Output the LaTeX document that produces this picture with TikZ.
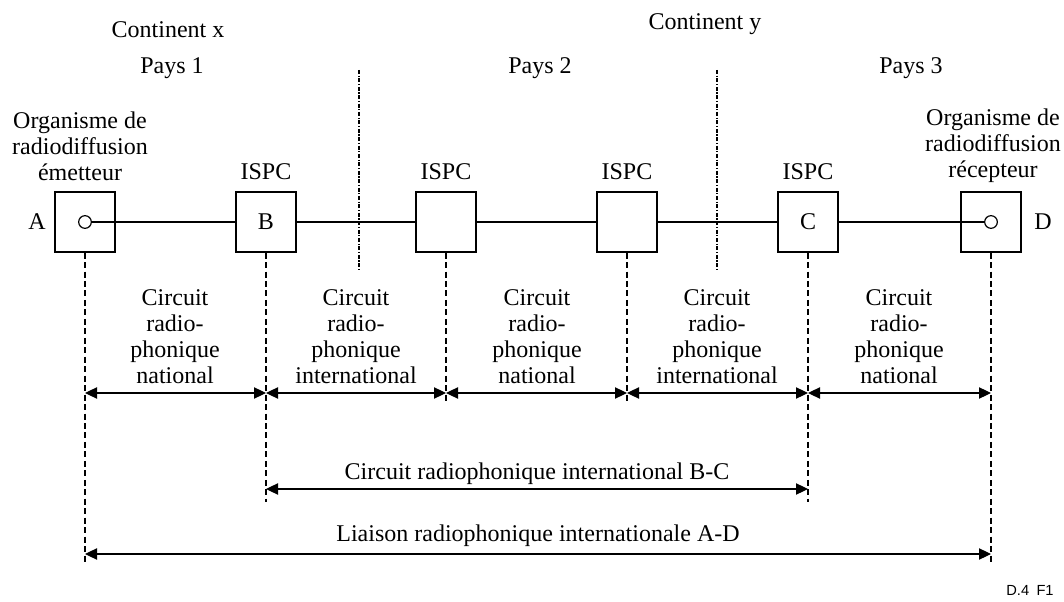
\documentclass[tikz,border=0pt]{standalone}
\usepackage{fontspec}
\setmainfont{Liberation Serif}
\setsansfont{Liberation Sans}
\usetikzlibrary{arrows.meta}

\tikzstyle{station}=[rectangle, draw, line width=0.9pt,
                     minimum size=45pt, inner sep=0pt]
\tikzstyle{port}=[circle, draw, line width=0.9pt,
                  minimum size=9.5pt, inner sep=0pt]
\tikzstyle{caption}=[align=center, inner sep=0pt]
\tikzstyle{leader}=[line width=0.8pt, dash pattern=on 4.5pt off 2.6pt]
\tikzstyle{border}=[line width=0.9pt,
                    dash pattern=on 3pt off 1.2pt on 0.9pt off 1.2pt]
\tikzstyle{span}=[line width=0.8pt,
                  {Triangle[length=9pt,width=8.5pt]}-{Triangle[length=9pt,width=8.5pt]}]

\begin{document}
\begin{tikzpicture}[x=0.75pt, y=-0.75pt, font=\fontsize{18}{19.5}\selectfont]

  \useasboundingbox (0, 0) rectangle (1064, 602);

  % continents and countries
  \node (contX) at (168, 30) [caption] {Continent x};
  \node (contY) at (705, 24) [caption] {Continent y};
  \node (pays1) at (172, 68) [caption] {Pays 1};
  \node (pays2) at (540, 68) [caption] {Pays 2};
  \node (pays3) at (911, 68) [caption] {Pays 3};

  \coordinate (sep1top) at (359, 70);
  \coordinate (sep1bot) at (359, 270);
  \coordinate (sep2top) at (717, 70);
  \coordinate (sep2bot) at (717, 270);
  \draw [border] (sep1top) -- (sep1bot);
  \draw [border] (sep2top) -- (sep2bot);

  % organisms
  \node (emet) at (80, 146) [caption] {Organisme de\\radiodiffusion\\émetteur};
  \node (recep) at (993, 146) [caption] {Organisme de\\radiodiffusion\\récepteur};

  % stations
  \node (A) at (85, 222) [station] {};
  \node (B) at (266, 222) [station] {B};
  \node (ispc1) at (446, 222) [station] {};
  \node (ispc2) at (627, 222) [station] {};
  \node (C) at (808, 222) [station] {C};
  \node (D) at (991, 222) [station] {};

  \node (portA) at (A.center) [port] {};
  \node (portD) at (D.center) [port] {};

  \node (nameA) at (37, 222) [caption] {A};
  \node (nameD) at (1043, 222) [caption] {D};

  \node (ispcB) at (266, 172) [caption] {ISPC};
  \node (ispcX) at (446, 172) [caption] {ISPC};
  \node (ispcY) at (627, 172) [caption] {ISPC};
  \node (ispcC) at (808, 172) [caption] {ISPC};

  \draw [line width=0.8pt] (portA) -- (B) -- (ispc1) -- (ispc2) -- (C) -- (portD);

  %%%%%%%%%%%%%%%%%%%%%%%%%%%%%%
  % leaders
  \coordinate (endA) at (85, 563);
  \coordinate (endB) at (266, 502);
  \coordinate (end1) at (446, 403);
  \coordinate (end2) at (627, 403);
  \coordinate (endC) at (808, 502);
  \coordinate (endD) at (991, 563);

  \draw [leader] (A) -- (endA);
  \draw [leader] (B) -- (endB);
  \draw [leader] (ispc1) -- (end1);
  \draw [leader] (ispc2) -- (end2);
  \draw [leader] (C) -- (endC);
  \draw [leader] (D) -- (endD);

  % circuits
  \coordinate (rowA) at (85, 393);
  \coordinate (rowB) at (266, 393);
  \coordinate (row1) at (446, 393);
  \coordinate (row2) at (627, 393);
  \coordinate (rowC) at (808, 393);
  \coordinate (rowD) at (991, 393);

  \draw [span] (rowA) -- (rowB);
  \draw [span] (rowB) -- (row1);
  \draw [span] (row1) -- (row2);
  \draw [span] (row2) -- (rowC);
  \draw [span] (rowC) -- (rowD);

  \node (circ1) at (175, 337) [caption] {Circuit\\radio-\\phonique\\national};
  \node (circ2) at (356, 337) [caption] {Circuit\\radio-\\phonique\\international};
  \node (circ3) at (537, 337) [caption] {Circuit\\radio-\\phonique\\national};
  \node (circ4) at (717, 337) [caption] {Circuit\\radio-\\phonique\\international};
  \node (circ5) at (899, 337) [caption] {Circuit\\radio-\\phonique\\national};

  % B-C and A-D
  \coordinate (bcB) at (266, 489);
  \coordinate (bcC) at (808, 489);
  \draw [span] (bcB) -- (bcC);
  \node (circBC) at (537, 474) [caption] {Circuit radiophonique international B-C};

  \coordinate (adA) at (85, 554);
  \coordinate (adD) at (991, 554);
  \draw [span] (adA) -- (adD);
  \node (liaison) at (538, 536) [caption] {Liaison radiophonique internationale A-D};

  \node (fig) at (1030, 590) [caption, font=\sffamily\fontsize{11}{12}\selectfont] {D.4\hspace{0.5em}F1};

\end{tikzpicture}
\end{document}
